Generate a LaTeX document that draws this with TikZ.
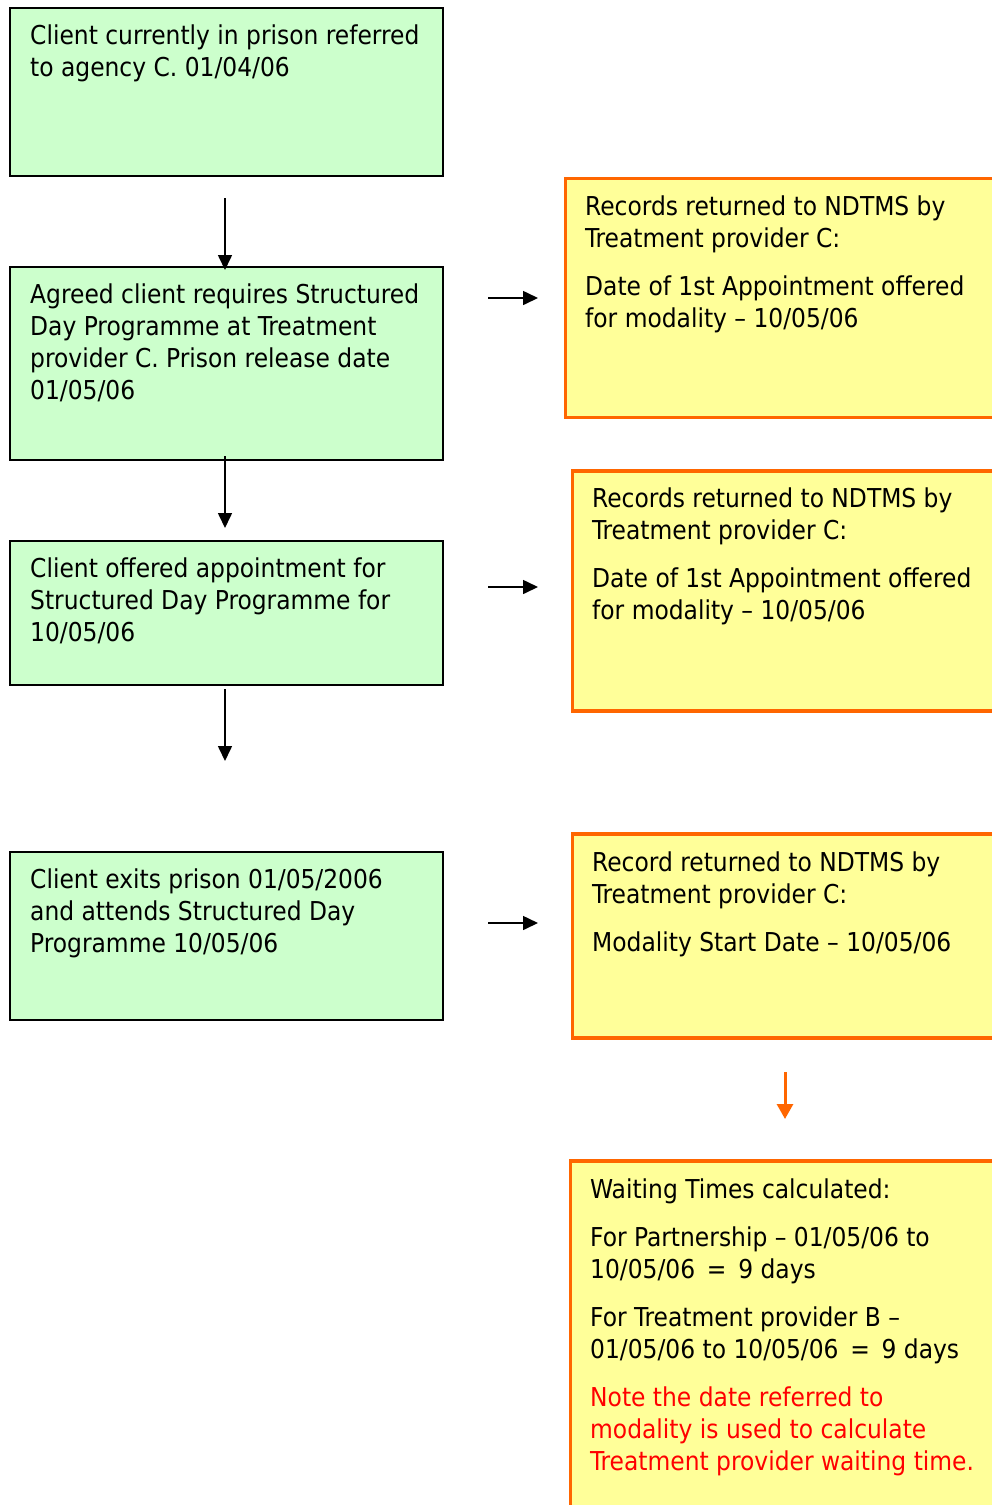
\documentclass[tikz,border=0pt]{standalone}
\usepackage{fontspec}
\setmainfont{DejaVu Sans Condensed}
\usetikzlibrary{arrows.meta}
\definecolor{gfill}{HTML}{CCFFCC}
\definecolor{yfill}{HTML}{FFFF99}
\definecolor{orng}{HTML}{FF6600}
\definecolor{rtext}{HTML}{FF0000}
\begin{document}
\begin{tikzpicture}[x=1pt,y=-1pt,
  gbox/.style={draw=black,line width=1.8pt,fill=gfill,anchor=north west,inner sep=0pt,rectangle},
  ybox/.style={draw=orng,line width=3.5pt,fill=yfill,anchor=north west,inner sep=0pt,rectangle},
  txt/.style={anchor=north west,inner sep=0pt,align=left,font=\fontsize{26}{32}\selectfont},
  arr/.style={line width=1.6pt,-{Triangle[length=15pt,width=14pt]}},
  oarr/.style={draw=orng,line width=3pt,-{Triangle[length=15pt,width=16pt]}}]
\clip (0,0) rectangle (992,1505);
\fill[white] (0,0) rectangle (992,1505);
% left green boxes
\node[gbox,minimum width=433pt,minimum height=168pt] (g1) at (9,7) {};
\node[gbox,minimum width=433pt,minimum height=193pt] (g2) at (9,266) {};
\node[gbox,minimum width=433pt,minimum height=144pt] (g3) at (9,540) {};
\node[gbox,minimum width=433pt,minimum height=168pt] (g4) at (9,851) {};
% right yellow boxes
\node[ybox,minimum width=460pt,minimum height=239pt] (y1) at (563.5,176.5) {};
\node[ybox,minimum width=460pt,minimum height=240pt] (y2) at (570.5,469) {};
\node[ybox,minimum width=460pt,minimum height=204pt] (y3) at (570.5,832) {};
\node[ybox,minimum width=460pt,minimum height=400pt] (y4) at (568.5,1159) {};
% texts
\node[txt] (t1) at (30,21.6) {\strut Client currently in prison referred\\to agency C. 01/04/06};
\node[txt] (t2) at (30,280.6) {\strut Agreed client requires Structured\\Day Programme at Treatment\\provider C. Prison release date\\01/05/06};
\node[txt] (t3) at (30,554.6) {\strut Client offered appointment for\\Structured Day Programme for\\10/05/06};
\node[txt] (t4) at (30,865.6) {\strut Client exits prison 01/05/2006\\and attends Structured Day\\Programme 10/05/06};
\node[txt] (u1) at (585,192.6) {\strut Records returned to NDTMS by\\Treatment provider C:\\[16pt]Date of 1st Appointment offered\\for modality -- 10/05/06};
\node[txt] (u2) at (592,484.6) {\strut Records returned to NDTMS by\\Treatment provider C:\\[16pt]Date of 1st Appointment offered\\for modality -- 10/05/06};
\node[txt] (u3) at (592,848.6) {\strut Record returned to NDTMS by\\Treatment provider C:\\[16pt]Modality Start Date -- 10/05/06};
\node[txt] (u4) at (590,1175.6) {\strut Waiting Times calculated:\\[16pt]For Partnership -- 01/05/06 to\\10/05/06 \,=\, 9 days\\[16pt]For Treatment provider B --\\01/05/06 to 10/05/06 \,=\, 9 days\\[16pt]\textcolor{rtext}{Note the date referred to}\\\textcolor{rtext}{modality is used to calculate}\\\textcolor{rtext}{Treatment provider waiting time.}};
% connectors
\coordinate (a1s) at (225,198); \coordinate (a1e) at (225,270);
\coordinate (a2s) at (225,456); \coordinate (a2e) at (225,528);
\coordinate (a3s) at (225,689); \coordinate (a3e) at (225,761);
\coordinate (r1s) at (488,298); \coordinate (r1e) at (538,298);
\coordinate (r2s) at (488,587); \coordinate (r2e) at (538,587);
\coordinate (r3s) at (488,923); \coordinate (r3e) at (538,923);
\coordinate (o1s) at (785,1072); \coordinate (o1e) at (785,1119);
\draw[arr] (a1s) -- (a1e);
\draw[arr] (a2s) -- (a2e);
\draw[arr] (a3s) -- (a3e);
\draw[arr] (r1s) -- (r1e);
\draw[arr] (r2s) -- (r2e);
\draw[arr] (r3s) -- (r3e);
\draw[oarr] (o1s) -- (o1e);
\end{tikzpicture}
\end{document}
